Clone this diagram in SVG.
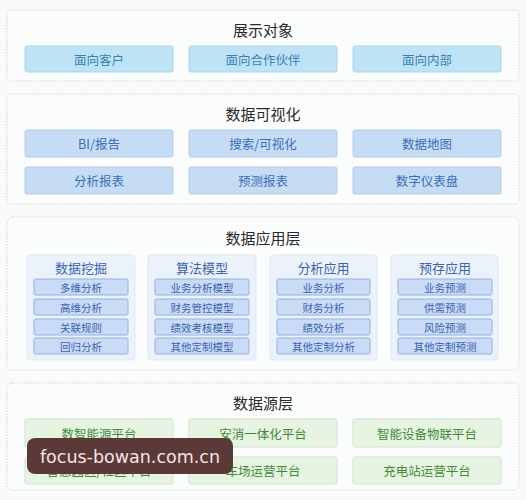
<svg xmlns="http://www.w3.org/2000/svg" width="526" height="500" viewBox="0 0 526 500">
<style>
text{font-family:"Noto Sans CJK SC","Liberation Sans",sans-serif;text-anchor:middle;dominant-baseline:central}
.panel{fill:#fbfcfc;stroke:#cfd5d6;stroke-width:1;stroke-dasharray:1.5 1.5}
.title{font-size:15px;fill:#2a2a2a}
.b1{fill:#bfe3f6;stroke:#a9d3ea;stroke-width:1}
.t1{font-size:12.5px;fill:#3a80b4}
.b2{fill:#c6dcf5;stroke:#b2cce9;stroke-width:1}
.t2{font-size:12.5px;fill:#3a6db5}
.sub{fill:#ebf2fb;stroke:#e0e9f5;stroke-width:1}
.st{font-size:13px;fill:#3a65b0}
.it{fill:#c9dbf6;stroke:#93b2dd;stroke-width:1}
.itt{font-size:10.5px;fill:#3a62ae}
.g{fill:#e8f4e2;stroke:#d0e2c8;stroke-width:1}
.gt{font-size:12.5px;fill:#3f8a3a}
</style>
<rect width="526" height="500" fill="#f9fafa"/>

<g id="layer-display">
<rect class="panel" x="7" y="10" width="512" height="71" rx="4"/>
<text class="title" x="263" y="29">展示对象</text>
<g id="n-customer"><rect class="b1" x="25" y="46" width="148" height="26" rx="2"/><text class="t1" x="99" y="59">面向客户</text></g>
<g id="n-partner"><rect class="b1" x="189" y="46" width="148" height="26" rx="2"/><text class="t1" x="263" y="59">面向合作伙伴</text></g>
<g id="n-internal"><rect class="b1" x="353" y="46" width="148" height="26" rx="2"/><text class="t1" x="427" y="59">面向内部</text></g>
</g>

<g id="layer-vis">
<rect class="panel" x="7" y="94" width="512" height="110" rx="4"/>
<text class="title" x="263" y="113">数据可视化</text>
<g id="n-bi"><rect class="b2" x="25" y="130" width="148" height="27" rx="2"/><text class="t2" x="99" y="143.5">BI/报告</text></g>
<g id="n-search"><rect class="b2" x="189" y="130" width="148" height="27" rx="2"/><text class="t2" x="263" y="143.5">搜索/可视化</text></g>
<g id="n-map"><rect class="b2" x="353" y="130" width="148" height="27" rx="2"/><text class="t2" x="427" y="143.5">数据地图</text></g>
<g id="n-ar"><rect class="b2" x="25" y="167" width="148" height="27" rx="2"/><text class="t2" x="99" y="180.5">分析报表</text></g>
<g id="n-pr"><rect class="b2" x="189" y="167" width="148" height="27" rx="2"/><text class="t2" x="263" y="180.5">预测报表</text></g>
<g id="n-dash"><rect class="b2" x="353" y="167" width="148" height="27" rx="2"/><text class="t2" x="427" y="180.5">数字仪表盘</text></g>
</g>

<g id="layer-app">
<rect class="panel" x="7" y="217" width="512" height="153" rx="6"/>
<text class="title" x="263" y="237">数据应用层</text>
<g id="n-mining">
<rect class="sub" x="27" y="255" width="108" height="105" rx="3"/>
<text class="st" x="81" y="267">数据挖掘</text>
<rect class="it" x="34" y="279" width="94" height="16" rx="1.5"/><text class="itt" x="81" y="287">多维分析</text>
<rect class="it" x="34" y="299" width="94" height="16" rx="1.5"/><text class="itt" x="81" y="307">高维分析</text>
<rect class="it" x="34" y="319" width="94" height="16" rx="1.5"/><text class="itt" x="81" y="327">关联规则</text>
<rect class="it" x="34" y="338" width="94" height="16" rx="1.5"/><text class="itt" x="81" y="346">回归分析</text>
</g>
<g id="n-algo">
<rect class="sub" x="148" y="255" width="108" height="105" rx="3"/>
<text class="st" x="202" y="267">算法模型</text>
<rect class="it" x="155" y="279" width="94" height="16" rx="1.5"/><text class="itt" x="202" y="287">业务分析模型</text>
<rect class="it" x="155" y="299" width="94" height="16" rx="1.5"/><text class="itt" x="202" y="307">财务管控模型</text>
<rect class="it" x="155" y="319" width="94" height="16" rx="1.5"/><text class="itt" x="202" y="327">绩效考核模型</text>
<rect class="it" x="155" y="338" width="94" height="16" rx="1.5"/><text class="itt" x="202" y="346">其他定制模型</text>
</g>
<g id="n-analysis">
<rect class="sub" x="270" y="255" width="107" height="105" rx="3"/>
<text class="st" x="323.5" y="267">分析应用</text>
<rect class="it" x="277" y="279" width="93" height="16" rx="1.5"/><text class="itt" x="323.5" y="287">业务分析</text>
<rect class="it" x="277" y="299" width="93" height="16" rx="1.5"/><text class="itt" x="323.5" y="307">财务分析</text>
<rect class="it" x="277" y="319" width="93" height="16" rx="1.5"/><text class="itt" x="323.5" y="327">绩效分析</text>
<rect class="it" x="277" y="338" width="93" height="16" rx="1.5"/><text class="itt" x="323.5" y="346">其他定制分析</text>
</g>
<g id="n-forecast">
<rect class="sub" x="391" y="255" width="107" height="105" rx="3"/>
<text class="st" x="445" y="267">预存应用</text>
<rect class="it" x="398" y="279" width="94" height="16" rx="1.5"/><text class="itt" x="445" y="287">业务预测</text>
<rect class="it" x="398" y="299" width="94" height="16" rx="1.5"/><text class="itt" x="445" y="307">供需预测</text>
<rect class="it" x="398" y="319" width="94" height="16" rx="1.5"/><text class="itt" x="445" y="327">风险预测</text>
<rect class="it" x="398" y="338" width="94" height="16" rx="1.5"/><text class="itt" x="445" y="346">其他定制预测</text>
</g>
</g>

<g id="layer-source">
<rect class="panel" x="7" y="383" width="512" height="107" rx="5"/>
<text class="title" x="263" y="402">数据源层</text>
<g id="n-energy"><rect class="g" x="25" y="419" width="148" height="28" rx="2"/><text class="gt" x="99" y="433">数智能源平台</text></g>
<g id="n-fire"><rect class="g" x="189" y="419" width="148" height="28" rx="2"/><text class="gt" x="263" y="433">安消一体化平台</text></g>
<g id="n-iot"><rect class="g" x="353" y="419" width="148" height="28" rx="2"/><text class="gt" x="427" y="433">智能设备物联平台</text></g>
<g id="n-park"><rect class="g" x="25" y="457" width="148" height="27" rx="2"/><text class="gt" x="99" y="470.5">智慧园区/社区平台</text></g>
<g id="n-parking"><rect class="g" x="189" y="457" width="148" height="27" rx="2"/><text class="gt" x="263" y="470.5">车场运营平台</text></g>
<g id="n-charge"><rect class="g" x="353" y="457" width="148" height="27" rx="2"/><text class="gt" x="427" y="470.5">充电站运营平台</text></g>
</g>

<g id="watermark">
<rect x="27" y="438" width="206" height="36" rx="8" fill="#5a3938"/>
<text x="130" y="457" style="font-family:'DejaVu Sans','Liberation Sans',sans-serif;font-size:17.5px;fill:#f6e4e4">focus-bowan.com.cn</text>
</g>
<g id="connectors"></g>
</svg>
